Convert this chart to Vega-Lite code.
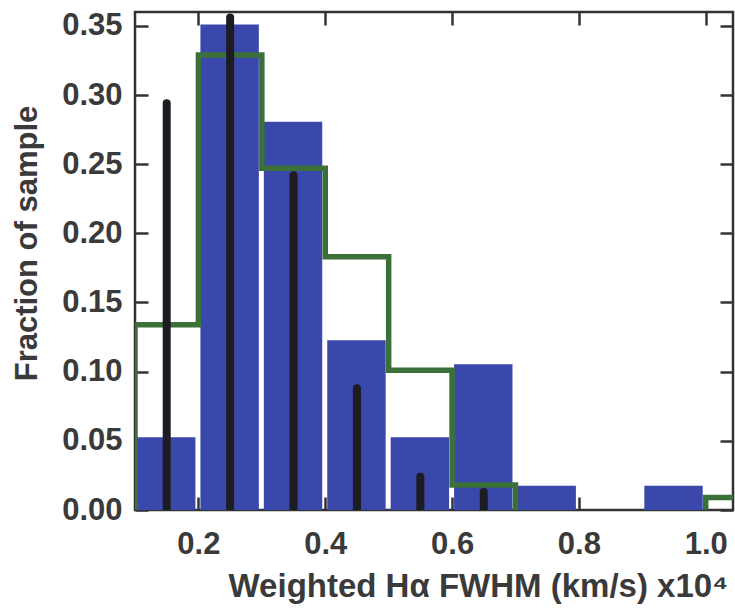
{
  "$schema": "https://vega.github.io/schema/vega-lite/v6.json",
  "width": 598,
  "height": 498,
  "autosize": "none",
  "padding": {"left": 135, "top": 12, "right": 2, "bottom": 104},
  "background": "white",
  "config": {
    "view": {"stroke": "#333333", "strokeWidth": 2.5},
    "axis": {
      "grid": false,
      "domain": false,
      "labelFont": "Liberation Sans",
      "labelFontWeight": "bold",
      "labelFontSize": 31,
      "labelColor": "#3a3a3a",
      "titleFont": "Liberation Sans",
      "titleFontWeight": "bold",
      "titleFontSize": 31,
      "titleColor": "#3a3a3a",
      "tickColor": "#333333",
      "tickWidth": 2.5,
      "tickSize": -13
    }
  },
  "datasets": {
    "hist": [
      {"lo": 0.1, "hi": 0.2, "frac": 0.0526},
      {"lo": 0.2, "hi": 0.3, "frac": 0.3509},
      {"lo": 0.3, "hi": 0.4, "frac": 0.2807},
      {"lo": 0.4, "hi": 0.5, "frac": 0.1228},
      {"lo": 0.5, "hi": 0.6, "frac": 0.0526},
      {"lo": 0.6, "hi": 0.7, "frac": 0.1053},
      {"lo": 0.7, "hi": 0.8, "frac": 0.0175},
      {"lo": 0.8, "hi": 0.9, "frac": 0},
      {"lo": 0.9, "hi": 1.0, "frac": 0.0175}
    ],
    "step": [
      {"x": 0.1, "y": 0, "o": 0, "seg": "a"},
      {"x": 0.1, "y": 0.134, "o": 1, "seg": "a"},
      {"x": 0.2, "y": 0.329, "o": 2, "seg": "a"},
      {"x": 0.3, "y": 0.247, "o": 3, "seg": "a"},
      {"x": 0.4, "y": 0.183, "o": 4, "seg": "a"},
      {"x": 0.5, "y": 0.101, "o": 5, "seg": "a"},
      {"x": 0.6, "y": 0.018, "o": 6, "seg": "a"},
      {"x": 0.7, "y": 0, "o": 7, "seg": "a"},
      {"x": 1.0, "y": 0, "o": 8, "seg": "b"},
      {"x": 1.0, "y": 0.009, "o": 9, "seg": "b"},
      {"x": 1.1, "y": 0.009, "o": 10, "seg": "b"}
    ],
    "thin": [
      {"c": 0.15, "frac": 0.294},
      {"c": 0.25, "frac": 0.356},
      {"c": 0.35, "frac": 0.242},
      {"c": 0.45, "frac": 0.088},
      {"c": 0.55, "frac": 0.024},
      {"c": 0.65, "frac": 0.013}
    ]
  },
  "layer": [
    {
      "data": {"name": "hist"},
      "mark": {"type": "bar", "color": "#3a47ab", "xOffset": 2, "x2Offset": -3, "clip": true},
      "encoding": {
        "x": {
          "field": "lo", "type": "quantitative",
          "scale": {"domain": [0.1, 1.043], "nice": false, "zero": false},
          "axis": {
            "orient": "bottom",
            "values": [0.2, 0.4, 0.6, 0.8, 1.0],
            "format": ".1f",
            "labelPadding": 32,
            "title": "Weighted Hα FWHM (km/s) x10⁴",
            "titleFontSize": 33,
            "titleX": 343,
            "titleY": 76,
            "titleBaseline": "middle",
            "titleAlign": "center"
          }
        },
        "x2": {"field": "hi"},
        "y": {
          "field": "frac", "type": "quantitative",
          "scale": {"domain": [0, 0.36], "nice": false},
          "axis": {
            "orient": "left",
            "values": [0, 0.05, 0.1, 0.15, 0.2, 0.25, 0.3, 0.35],
            "format": ".2f",
            "labelPadding": 26,
            "title": "Fraction of sample",
            "titleX": -108,
            "titleY": 231,
            "titleAngle": -90,
            "titleAlign": "center",
            "titleBaseline": "middle"
          }
        },
        "y2": {"datum": 0}
      }
    },
    {
      "data": {"name": "step"},
      "mark": {"type": "line", "interpolate": "step-after", "color": "#3b7138", "strokeWidth": 5.5, "clip": true},
      "encoding": {
        "x": {"field": "x", "type": "quantitative", "axis": {"orient": "top", "values": [0.2, 0.4, 0.6, 0.8, 1.0], "labels": false, "title": null}},
        "y": {"field": "y", "type": "quantitative", "axis": {"orient": "right", "values": [0, 0.05, 0.1, 0.15, 0.2, 0.25, 0.3, 0.35], "labels": false, "title": null}},
        "detail": {"field": "seg", "type": "nominal"},
        "order": {"field": "o", "type": "quantitative"}
      }
    },
    {
      "data": {"name": "thin"},
      "mark": {"type": "rule", "color": "#1c1c22", "strokeWidth": 8, "strokeCap": "round", "clip": true},
      "encoding": {
        "x": {"field": "c", "type": "quantitative", "axis": null},
        "y": {"field": "frac", "type": "quantitative", "axis": null},
        "y2": {"datum": 0}
      }
    }
  ]
}
